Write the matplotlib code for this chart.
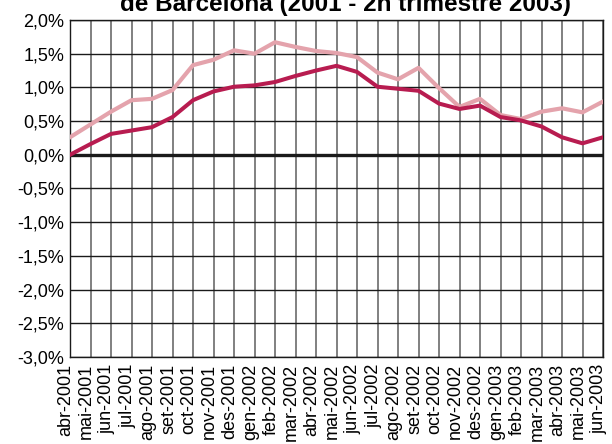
import numpy as np
import matplotlib
matplotlib.use("Agg")
from matplotlib import pyplot as plt
from matplotlib.transforms import ScaledTranslation

plt.rcParams['font.family'] = ['Liberation Sans', 'DejaVu Sans']

# months (abr-2001 .. jun-2003)
months = ['abr-2001', 'mai-2001', 'jun-2001', 'jul-2001', 'ago-2001', 'set-2001',
          'oct-2001', 'nov-2001', 'des-2001', 'gen-2002', 'feb-2002', 'mar-2002',
          'abr-2002', 'mai-2002', 'jun-2002', 'jul-2002', 'ago-2002', 'set-2002',
          'oct-2002', 'nov-2002', 'des-2002', 'gen-2003', 'feb-2003', 'mar-2003',
          'abr-2003', 'mai-2003', 'jun-2003']

# series values in %
serie_dark = [0.00, 0.16, 0.31, 0.36, 0.41, 0.56, 0.81, 0.94, 1.01, 1.03, 1.08, 1.17,
              1.25, 1.32, 1.23, 1.01, 0.98, 0.95, 0.76, 0.68, 0.73, 0.56, 0.51, 0.42,
              0.26, 0.17, 0.26]
serie_pink = [0.26, 0.45, 0.64, 0.81, 0.83, 0.96, 1.33, 1.41, 1.55, 1.50, 1.67, 1.60,
              1.54, 1.51, 1.45, 1.22, 1.12, 1.29, 0.99, 0.71, 0.83, 0.59, 0.53, 0.64,
              0.69, 0.63, 0.79]

yticks = np.arange(-3.0, 2.01, 0.5)

fig = plt.figure(figsize=(6.12, 4.44), dpi=100)
ax = fig.add_axes([70/612, 1-357/444, 533/612, 337/444])

x = np.arange(len(months))

# grid
for xi in x:
    ax.axvline(xi, color='#808080', lw=1.4, zorder=1)
for yv in yticks:
    ax.axhline(yv, color='#1a1a1a', lw=1.0, zorder=1)
ax.axhline(0, color='#1a1a1a', lw=2.4, zorder=2)

ax.plot(x, serie_pink, color='#E4A3AC', lw=3.0, zorder=3)
ax.plot(x, serie_dark, color='#B81C50', lw=2.9, zorder=4)

ax.set_xlim(0, len(months) - 1)
ax.set_ylim(-3.0, 2.0)
ax.set_yticks(yticks)
ax.set_yticklabels([('%.1f' % v).replace('.', ',') + '%' for v in yticks], fontsize=13)
ax.set_xticks(x)
ax.set_xticklabels(months, rotation=90, fontsize=13, va='top', ha='center')
ax.tick_params(length=0, pad=4)
ax.tick_params(axis='x', pad=5)
shift = ScaledTranslation(-4/100, 0, fig.dpi_scale_trans)
for lab in ax.get_xticklabels():
    lab.set_transform(lab.get_transform() + shift)

for s in ax.spines.values():
    s.set_color('#1a1a1a')
    s.set_linewidth(1.0)

# title, cut at the top edge as in the source image
fig.text(345/612, 1-11/444, 'de Barcelona (2001 - 2n trimestre 2003)',
         ha='center', va='baseline', fontsize=17.5, fontweight='bold')

fig.savefig('out.png', dpi=100)
